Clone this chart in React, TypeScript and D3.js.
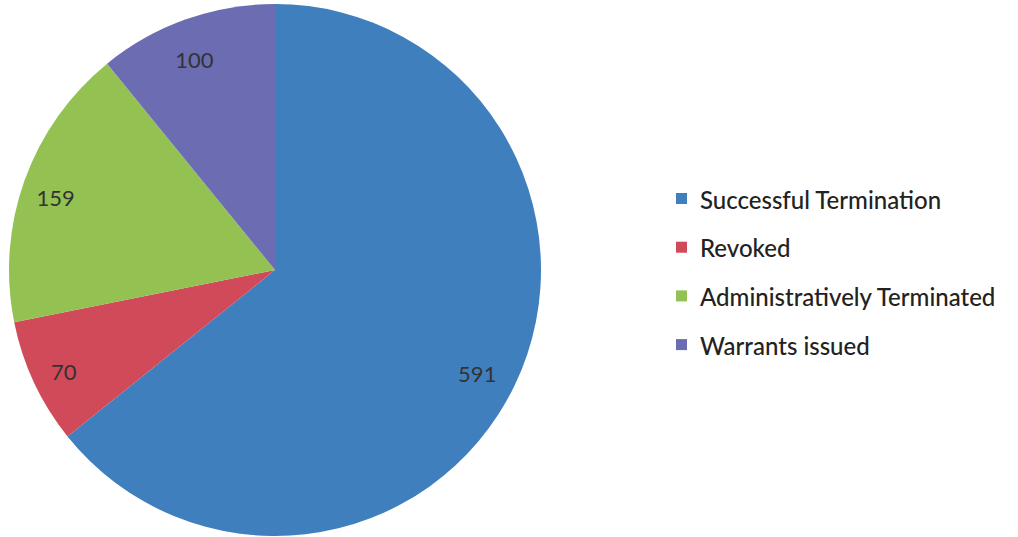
import React from "react";
import * as d3 from "d3";

const categories = ["Successful Termination", "Revoked", "Administratively Terminated", "Warrants issued"];
const values = [591, 70, 159, 100];
const colors = ["#3F7FBD", "#D04A5A", "#93C152", "#6C6CB2"];

export default function App() {
  const width = 1018;
  const height = 537;
  const cx = 275;
  const cy = 270;
  const R = 266;
  const pie = d3.pie<number>().sort(null).value((d) => d)(values);
  const arc = d3.arc<d3.PieArcDatum<number>>().innerRadius(0).outerRadius(R);
  const labelArc = d3.arc<d3.PieArcDatum<number>>().innerRadius(R * 0.86).outerRadius(R * 0.86);
  const font = "Lato, 'Open Sans', sans-serif";
  return (
    <svg width={width} height={height} style={{ position: "absolute", left: 0, top: 0, background: "#fff" }}>
      <g transform={`translate(${cx},${cy})`}>
        {pie.map((p, i) => (
          <path key={i} d={arc(p) || ""} fill={colors[i]} />
        ))}
        {pie.map((p, i) => {
          const [x, y] = labelArc.centroid(p);
          return (
            <text key={i} x={x - 4} y={y + 5} textAnchor="middle" dominantBaseline="central" fontFamily={font} fontSize={22} fill="#333">
              {values[i]}
            </text>
          );
        })}
      </g>
      <g fontFamily={font} fontSize={24} fill="#222" fontWeight={500}>
        {categories.map((c, i) => (
          <g key={i} transform={`translate(676,${198 + i * 48.7})`}>
            <rect x={0} y={-5} width={11} height={11} fill={colors[i]} />
            <text x={24} y={1} dominantBaseline="central">{c}</text>
          </g>
        ))}
      </g>
    </svg>
  );
}
